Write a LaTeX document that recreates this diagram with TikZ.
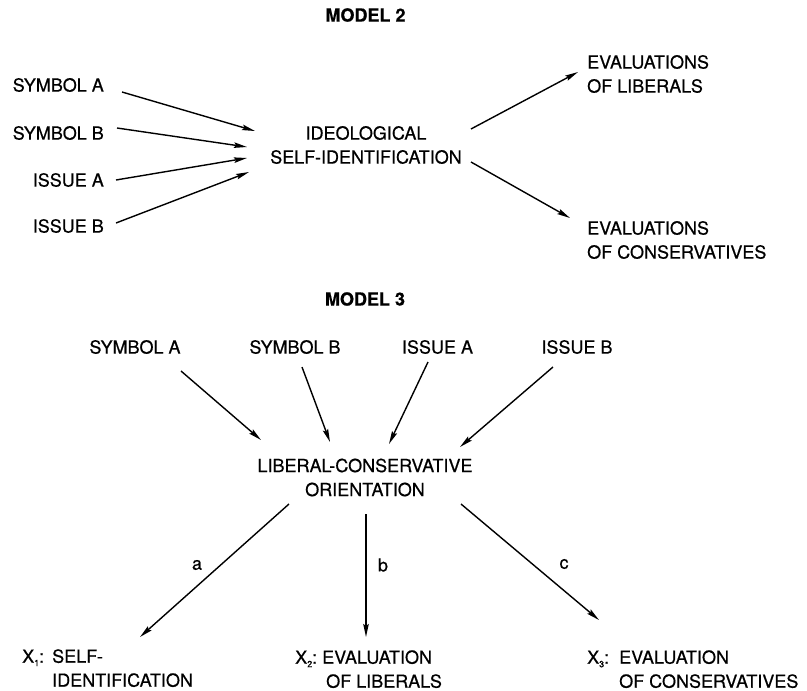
\documentclass[tikz,border=0pt]{standalone}
\usepackage{fontspec}
\setmainfont{TeX Gyre Heros}[FakeBold=0.6]
\usetikzlibrary{arrows.meta}
\newcommand{\idx}[1]{\raisebox{-3.5pt}{\fontsize{9}{9}\selectfont #1}}
\begin{document}
\begin{tikzpicture}[x=1pt,y=-1pt,
  every node/.style={font=\fontsize{18}{24}\selectfont, inner sep=0pt},
  title/.style={font=\fontsize{18}{24}\selectfont\bfseries},
  arr/.style={line width=1.4pt, -{Stealth[length=13pt,width=5.5pt,inset=2pt]}},
  xlabel/.style={anchor=north west}]
\path[use as bounding box] (0,0) rectangle (807,691);

% ---------- Model 2 ----------
\node[title] (t2) at (365.5,15) {MODEL 2};

\node[anchor=east] (m2sa) at (104,85)  {SYMBOL A};
\node[anchor=east] (m2sb) at (104,133) {SYMBOL B};
\node[anchor=east] (m2ia) at (104,180) {ISSUE A};
\node[anchor=east] (m2ib) at (104,226) {ISSUE B};

\node[align=center] (ideo) at (366,145) {IDEOLOGICAL\\SELF-IDENTIFICATION};

\node[anchor=west, align=left] (evlib) at (587,74)  {EVALUATIONS\\OF LIBERALS};
\node[anchor=west, align=left] (evcon) at (587,240) {EVALUATIONS\\OF CONSERVATIVES};

\draw[arr] ([shift={(18,7)}]m2sa.east)  -- ([shift={(-111,-14)}]ideo.center);
\draw[arr] ([shift={(13,-5)}]m2sb.east) -- ([shift={(-119,2)}]ideo.center);
\draw[arr] ([shift={(12,0)}]m2ia.east)  -- ([shift={(-119,13)}]ideo.center);
\draw[arr] ([shift={(12,-3)}]m2ib.east) -- ([shift={(-117,27)}]ideo.center);
\draw[arr] ([shift={(105,-16)}]ideo.center) -- ([shift={(-9,-2)}]evlib.west);
\draw[arr] ([shift={(105,17)}]ideo.center)  -- ([shift={(-17,-22)}]evcon.west);

% ---------- Model 3 ----------
\node[title] (t3) at (365,299) {MODEL 3};

\node (sa) at (135,347)   {SYMBOL A};
\node (sb) at (295,347)   {SYMBOL B};
\node (ia) at (437.5,347) {ISSUE A};
\node (ib) at (577,347)   {ISSUE B};

\node[align=center] (lc) at (365,477.5) {LIBERAL-CONSERVATIVE\\ORIENTATION};

\draw[arr] ([shift={(46,24)}]sa.center)  -- ([shift={(-104,-37.5)}]lc.center);
\draw[arr] ([shift={(7,20)}]sb.center)   -- ([shift={(-35,-35.5)}]lc.center);
\draw[arr] ([shift={(-9.5,15)}]ia.center) -- ([shift={(24,-33.5)}]lc.center);
\draw[arr] ([shift={(-24,20)}]ib.center) -- ([shift={(95,-30.5)}]lc.center);

\node[xlabel] (x1) at (22,645.7)
  {\begin{tabular}{@{}p{30pt}@{}l@{}}X\idx{1}:&SELF-\\&IDENTIFICATION\end{tabular}};
\node[xlabel] (x2) at (295,646.7)
  {\begin{tabular}{@{}p{27pt}@{}l@{}}X\idx{2}:&EVALUATION\\&\hspace{4pt}OF LIBERALS\end{tabular}};
\node[xlabel] (x3) at (587,646.7)
  {\begin{tabular}{@{}p{32pt}@{}l@{}}X\idx{3}:&EVALUATION\\&OF CONSERVATIVES\end{tabular}};

\draw[arr] ([shift={(-76,26.5)}]lc.center) -- ([shift={(118,-8.7)}]x1.north west);
\draw[arr] ([shift={(1,36.5)}]lc.center)   -- ([shift={(71,-9.7)}]x2.north west);
\draw[arr] ([shift={(96,26.5)}]lc.center)  -- ([shift={(12,-26.7)}]x3.north west);

\node (la) at (197,565) {a};
\node (lb) at (383,565) {b};
\node (lc3) at (564,564) {c};
\end{tikzpicture}
\end{document}
